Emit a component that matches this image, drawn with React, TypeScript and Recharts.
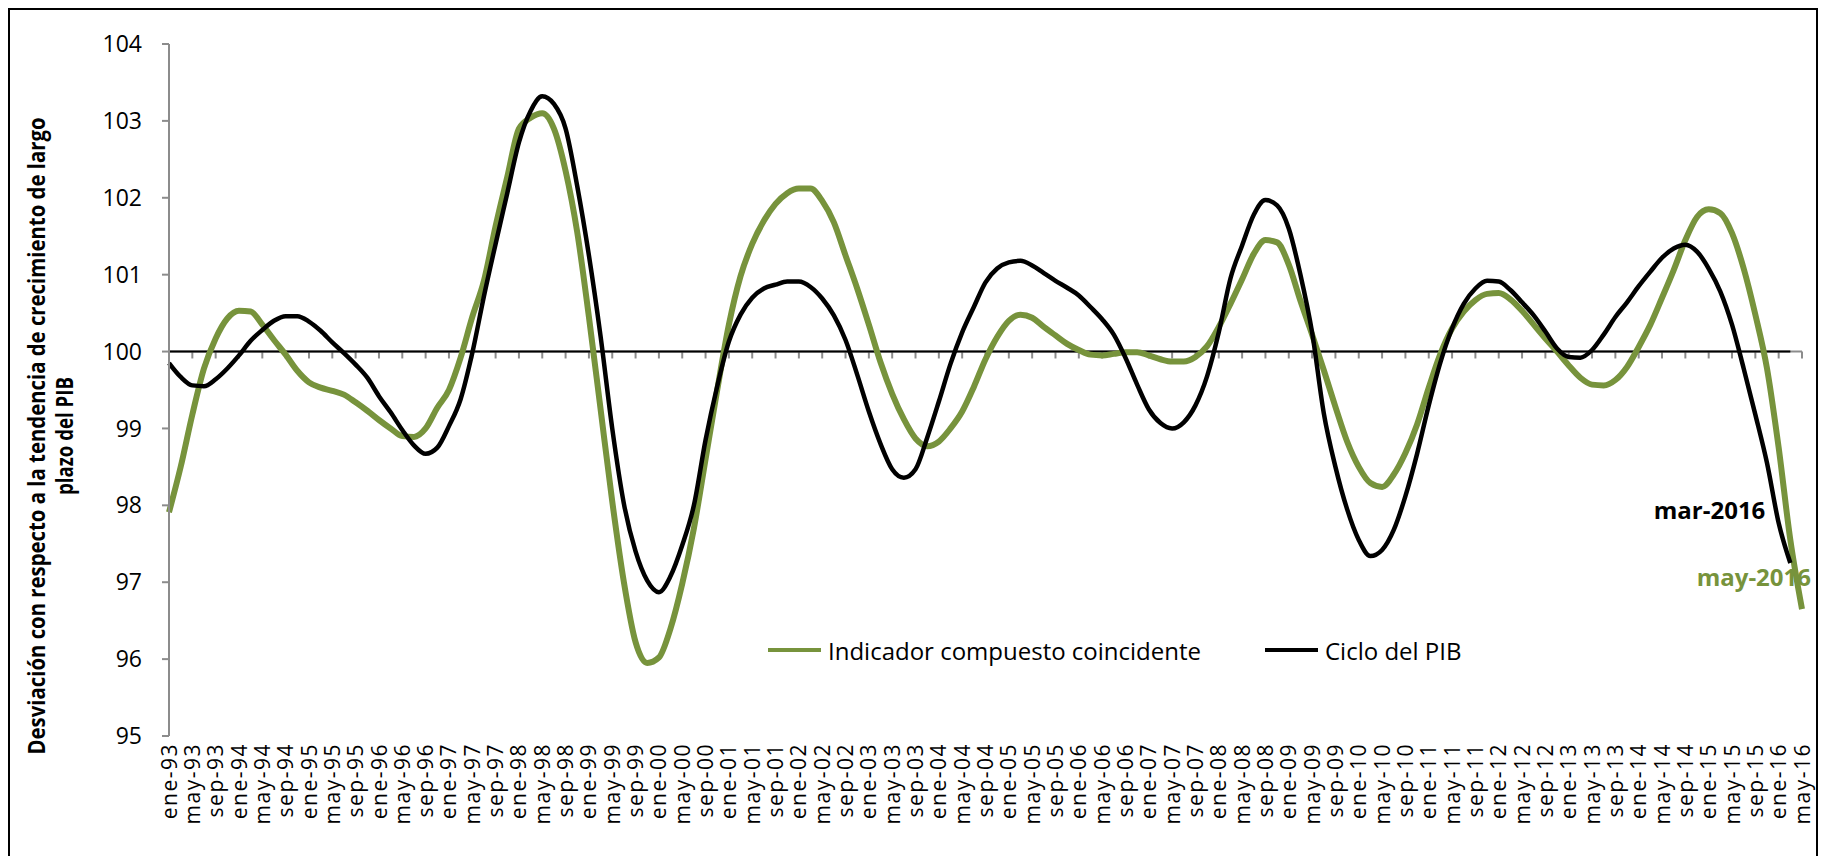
import { LabelList, Line, LineChart, ReferenceLine, XAxis, YAxis } from 'recharts'

const GREEN = '#77933C'
const AXIS_GREY = '#8c8c8c'

// one label every 4 months, ene-93 .. may-16
const tickLabels = [
  'ene-93', 'may-93', 'sep-93', 'ene-94', 'may-94', 'sep-94', 'ene-95', 'may-95', 'sep-95',
  'ene-96', 'may-96', 'sep-96', 'ene-97', 'may-97', 'sep-97', 'ene-98', 'may-98', 'sep-98',
  'ene-99', 'may-99', 'sep-99', 'ene-00', 'may-00', 'sep-00', 'ene-01', 'may-01', 'sep-01',
  'ene-02', 'may-02', 'sep-02', 'ene-03', 'may-03', 'sep-03', 'ene-04', 'may-04', 'sep-04',
  'ene-05', 'may-05', 'sep-05', 'ene-06', 'may-06', 'sep-06', 'ene-07', 'may-07', 'sep-07',
  'ene-08', 'may-08', 'sep-08', 'ene-09', 'may-09', 'sep-09', 'ene-10', 'may-10', 'sep-10',
  'ene-11', 'may-11', 'sep-11', 'ene-12', 'may-12', 'sep-12', 'ene-13', 'may-13', 'sep-13',
  'ene-14', 'may-14', 'sep-14', 'ene-15', 'may-15', 'sep-15', 'ene-16', 'may-16',
]

const yTicks = [95, 96, 97, 98, 99, 100, 101, 102, 103, 104]

// values every 2 months from ene-93
const indicador = [
  97.91, 98.5, 99.18, 99.78, 100.17, 100.43, 100.53, 100.52, 100.35, 100.15,
  99.96, 99.75, 99.6, 99.53, 99.49, 99.44, 99.34, 99.23, 99.11, 99.0,
  98.9, 98.89, 99.0, 99.27, 99.5, 99.92, 100.45, 100.92, 101.63, 102.27,
  102.9, 103.04, 103.1, 102.9, 102.35, 101.55, 100.45, 99.25, 98.05, 97.0,
  96.22, 95.95, 96.02, 96.4, 96.98, 97.7, 98.6, 99.5, 100.35, 100.98,
  101.4, 101.7, 101.92, 102.06, 102.12, 102.12, 101.96, 101.68, 101.25, 100.82,
  100.35, 99.86, 99.45, 99.12, 98.87, 98.77, 98.83, 99.0, 99.22, 99.54,
  99.9, 100.19, 100.4, 100.48, 100.44, 100.32, 100.21, 100.1, 100.02, 99.96,
  99.95, 99.97, 99.99, 99.99, 99.95, 99.9, 99.87, 99.87, 99.93, 100.07,
  100.32, 100.62, 100.94, 101.27, 101.45, 101.42, 101.13, 100.66, 100.22, 99.76,
  99.28, 98.83, 98.5, 98.29, 98.24, 98.4, 98.68, 99.05, 99.53, 99.97,
  100.3, 100.52, 100.67, 100.75, 100.76, 100.68, 100.53, 100.35, 100.17, 100.0,
  99.82, 99.66, 99.57, 99.56, 99.63, 99.8, 100.06, 100.35, 100.7, 101.06,
  101.45, 101.75, 101.85, 101.8, 101.54, 101.08, 100.48, 99.78, 98.75, 97.55,
  96.65,
]

// ends at mar-16
const ciclo = [
  99.85, 99.67, 99.56, 99.55, 99.64, 99.78, 99.95, 100.14, 100.28, 100.4,
  100.46, 100.46, 100.39, 100.27, 100.12, 99.98, 99.83, 99.66, 99.42, 99.21,
  98.98, 98.78, 98.67, 98.75, 99.03, 99.38, 99.98, 100.72, 101.4, 102.06,
  102.72, 103.13, 103.32, 103.22, 102.9, 102.15, 101.25, 100.2, 99.0, 98.02,
  97.4, 97.02, 96.87, 97.08, 97.48, 98.0, 98.85, 99.55, 100.13, 100.48,
  100.7, 100.82, 100.87, 100.91, 100.91, 100.84, 100.69, 100.47, 100.15, 99.7,
  99.22, 98.8, 98.47, 98.36, 98.47, 98.88, 99.35, 99.84, 100.25, 100.58,
  100.9, 101.08, 101.16, 101.18, 101.12, 101.02, 100.92, 100.83, 100.73, 100.58,
  100.42, 100.22, 99.92, 99.57, 99.25, 99.07, 99.0, 99.08, 99.3, 99.68,
  100.25, 100.95, 101.38, 101.78, 101.97, 101.9, 101.6, 101.0, 100.25, 99.2,
  98.5, 97.95, 97.55, 97.34, 97.42, 97.68, 98.12, 98.67, 99.3, 99.86,
  100.3, 100.62, 100.82, 100.92, 100.91, 100.8, 100.64, 100.47, 100.26, 100.04,
  99.93, 99.92, 100.02, 100.22, 100.45, 100.64, 100.85, 101.04, 101.22, 101.34,
  101.39, 101.3, 101.08, 100.78, 100.35, 99.78, 99.18, 98.55, 97.77, 97.25,
]

const rows = indicador.map((v, i) => ({ m: i * 2, indicador: v, ciclo: ciclo[i] }))
const xTicks = tickLabels.map((_, i) => i * 4)
const lastCiclo = ciclo.length - 1
const lastIndicador = indicador.length - 1

function MonthTick({ x, y, payload }: any) {
  return (
    <text
      x={x}
      y={y}
      transform={`rotate(-90, ${x}, ${y})`}
      textAnchor="end"
      dy="0.36em"
      fontSize={21}
      fontFamily="Open Sans"
      letterSpacing={1.5}
      fill="#000"
    >
      {tickLabels[Math.round(payload.value / 4)]}
    </text>
  )
}

function endLabel(last: number, text: string, color: string, dx: number, dy: number) {
  return (props: any) => {
    if (props.index !== last) return null
    return (
      <text
        x={props.x + dx}
        y={props.y + dy}
        textAnchor="end"
        fontSize={24}
        fontWeight="bold"
        fontFamily="Open Sans"
        fill={color}
      >
        {text}
      </text>
    )
  }
}

export default function App() {
  return (
    <div style={{ position: 'absolute', left: 0, top: 0, width: 1824, height: 856, overflow: 'hidden', background: '#fff' }}>
      <div style={{ position: 'absolute', left: 8, top: 8, width: 1806, height: 900, border: '2px solid #000' }} />

      <div style={{ position: 'absolute', left: 0, top: 0 }}>
        <LineChart width={1824} height={856} data={rows} margin={{ top: 44, right: 22, left: 0, bottom: 0 }}>
          <XAxis
            dataKey="m"
            type="number"
            domain={[0, 280]}
            ticks={xTicks}
            interval={0}
            axisLine={false}
            tickLine={false}
            tickSize={0}
            tickMargin={7}
            height={120}
            tick={<MonthTick />}
          />
          <YAxis
            type="number"
            domain={[95, 104]}
            ticks={yTicks}
            interval={0}
            width={169}
            tickSize={7}
            tickMargin={20}
            axisLine={{ stroke: AXIS_GREY, strokeWidth: 2 }}
            tickLine={{ stroke: AXIS_GREY, strokeWidth: 2 }}
            tick={{ fontSize: 23, fontFamily: 'Open Sans', fill: '#000' }}
          />
          <ReferenceLine y={100} stroke={AXIS_GREY} strokeWidth={2} />
          {xTicks.map((t) => (
            <ReferenceLine key={t} segment={[{ x: t, y: 100 }, { x: t, y: 99.91 }]} stroke={AXIS_GREY} strokeWidth={2} />
          ))}
          <ReferenceLine segment={[{ x: 0, y: 100 }, { x: 278, y: 100 }]} stroke="#000" strokeWidth={2} />
          <Line
            dataKey="indicador"
            type="monotone"
            stroke={GREEN}
            strokeWidth={6}
            dot={false}
            isAnimationActive={false}
          >
            <LabelList content={endLabel(lastIndicador, 'may-2016', GREEN, 9, -23)} />
          </Line>
          <Line
            dataKey="ciclo"
            type="monotone"
            stroke="#000"
            strokeWidth={4.5}
            dot={false}
            isAnimationActive={false}
          >
            <LabelList content={endLabel(lastCiclo, 'mar-2016', '#000', -25, -44)} />
          </Line>
        </LineChart>
      </div>

      {/* y axis title */}
      <svg style={{ position: 'absolute', left: 0, top: 0 }} width={110} height={856}>
        <text
          transform="translate(45, 436) rotate(-90)"
          textAnchor="middle"
          fontSize={23}
          fontWeight="bold"
          fontFamily="Open Sans"
          textLength={637}
          lengthAdjust="spacingAndGlyphs"
        >
          Desviación con respecto a la tendencia de crecimiento de largo
        </text>
        <text
          transform="translate(73, 436) rotate(-90)"
          textAnchor="middle"
          fontSize={23}
          fontWeight="bold"
          fontFamily="Open Sans"
          textLength={118}
          lengthAdjust="spacingAndGlyphs"
        >
          plazo del PIB
        </text>
      </svg>

      {/* legend */}
      <div style={{ position: 'absolute', left: 768, top: 633, height: 34, display: 'flex', alignItems: 'center', fontFamily: 'Open Sans', fontSize: 24, color: '#000', whiteSpace: 'nowrap' }}>
        <span style={{ display: 'inline-block', width: 53, height: 4, background: GREEN, marginRight: 7 }} />
        <span>Indicador compuesto coincidente</span>
      </div>
      <div style={{ position: 'absolute', left: 1265, top: 633, height: 34, display: 'flex', alignItems: 'center', fontFamily: 'Open Sans', fontSize: 24, color: '#000', whiteSpace: 'nowrap' }}>
        <span style={{ display: 'inline-block', width: 53, height: 4, background: '#000', marginRight: 7 }} />
        <span>Ciclo del PIB</span>
      </div>
    </div>
  )
}
